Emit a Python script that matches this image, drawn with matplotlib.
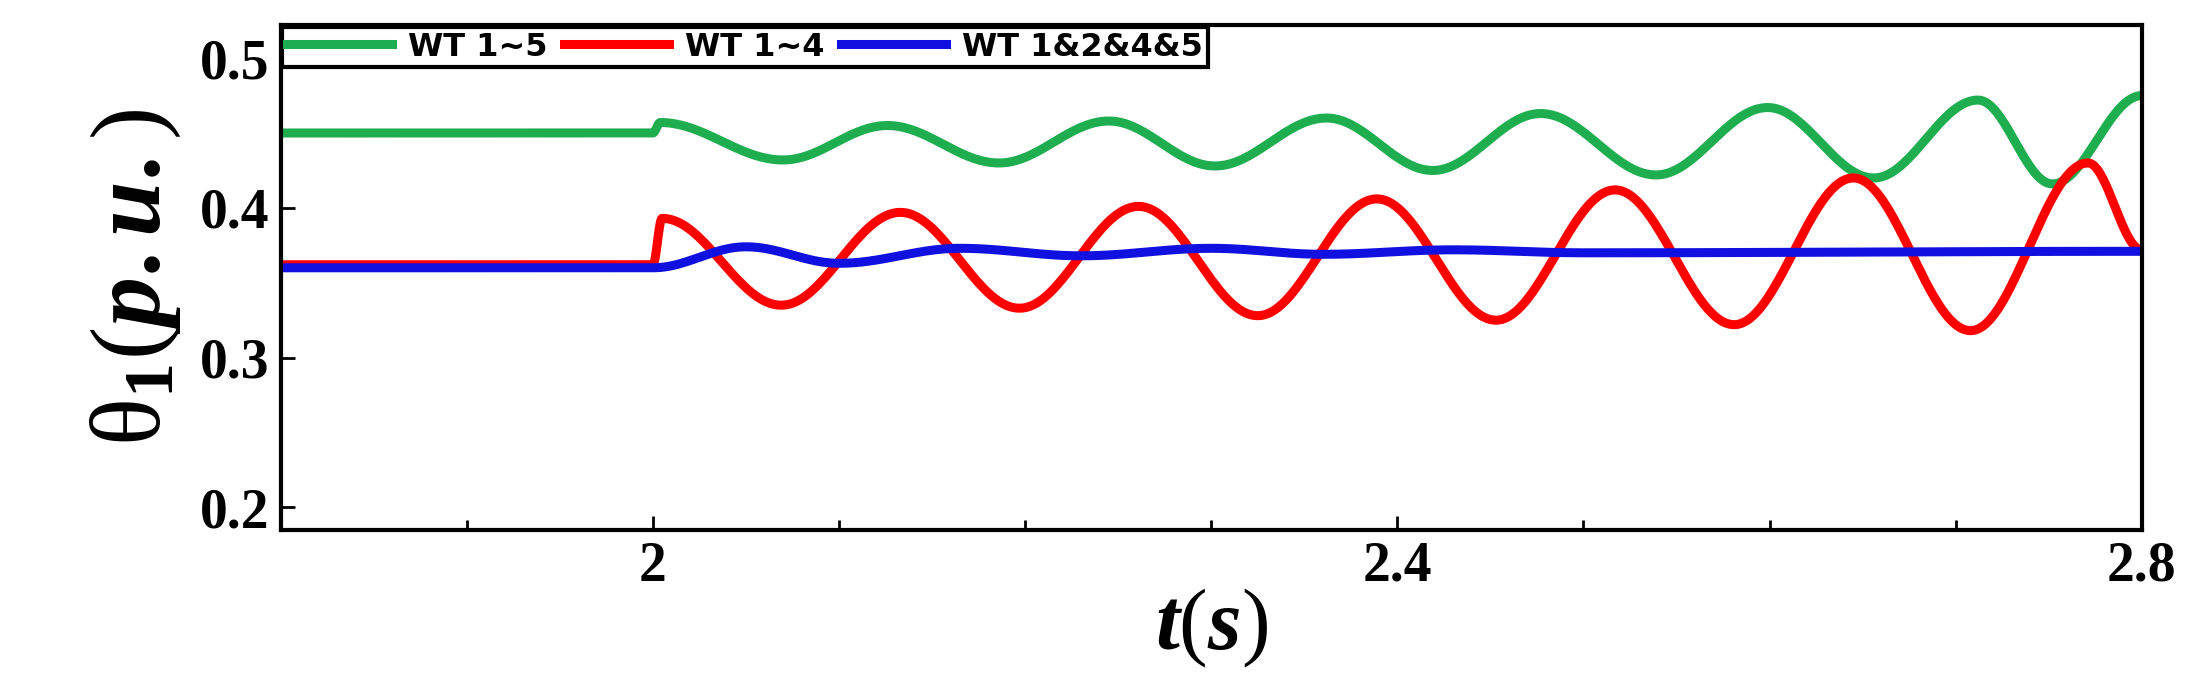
import numpy as np
import matplotlib
matplotlib.use("Agg")
import matplotlib.pyplot as plt

# key points (time, value)
g_t = [1.80, 2.000, 2.004, 2.070, 2.126, 2.186, 2.245, 2.302, 2.362, 2.419, 2.477, 2.539, 2.599, 2.656, 2.712, 2.752, 2.800]
g_v = [0.450, 0.450, 0.457, 0.432, 0.455, 0.430, 0.458, 0.428, 0.460, 0.425, 0.463, 0.422, 0.467, 0.420, 0.472, 0.416, 0.475]
r_t = [1.80, 2.000, 2.005, 2.069, 2.133, 2.197, 2.261, 2.325, 2.389, 2.453, 2.517, 2.581, 2.645, 2.708, 2.771, 2.800]
r_v = [0.362, 0.362, 0.393, 0.335, 0.397, 0.333, 0.401, 0.328, 0.406, 0.325, 0.412, 0.322, 0.420, 0.318, 0.430, 0.372]
b_t = [1.80, 2.000, 2.050, 2.100, 2.165, 2.230, 2.300, 2.360, 2.430, 2.500, 2.800]
b_v = [0.360, 0.360, 0.374, 0.363, 0.373, 0.368, 0.373, 0.369, 0.372, 0.370, 0.371]
labels = ["WT 1~5", "WT 1~4", "WT 1&2&4&5"]
colors = ["#1fae4f", "#ff0000", "#1010e0"]

def smooth(t, v, n=40):
    xs, ys = [], []
    for i in range(len(t) - 1):
        s = np.linspace(0, 1, n)
        w = (1 - np.cos(np.pi * s)) / 2
        xs.append(t[i] + (t[i+1] - t[i]) * s)
        ys.append(v[i] + (v[i+1] - v[i]) * w)
    return np.concatenate(xs), np.concatenate(ys)

plt.rcParams['font.family'] = ['Liberation Serif', 'DejaVu Serif']
plt.rcParams['mathtext.fontset'] = 'custom'
plt.rcParams['mathtext.it'] = 'Liberation Serif:italic:bold'
plt.rcParams['mathtext.rm'] = 'Liberation Serif:bold'
fig = plt.figure(figsize=(21.99, 6.81), dpi=100)
ax = fig.add_axes([0.1276, 0.222, 0.8464, 0.741])
for (t, v), lab, c in zip([(g_t, g_v), (r_t, r_v), (b_t, b_v)], labels, colors):
    x, y = smooth(t, v)
    ax.plot(x, y, color=c, lw=6.5, label=lab)
ax.set_xlim(1.8, 2.8)
ax.set_ylim(0.185, 0.522)
ax.set_xticks([2.0, 2.4, 2.8])
ax.set_xticklabels(["2", "2.4", "2.8"])
ax.set_xticks(np.arange(1.9, 2.8, 0.1), minor=True)
ax.set_yticks([0.2, 0.3, 0.4, 0.5])
ax.set_yticklabels(["0.2", "0.3", "0.4", "0.5"])
ax.tick_params(direction='in', labelsize=40, width=2, length=10, top=False, right=False, pad=8)
ax.tick_params(which='minor', direction='in', width=2, length=7)
for l in ax.get_xticklabels() + ax.get_yticklabels():
    l.set_fontweight('bold')
for s in ax.spines.values():
    s.set_linewidth(3)
ax.set_xlabel(r'$t$($s$)', fontsize=62, labelpad=-4)
ax.set_ylabel(r'θ$_1$($p.u.$)', fontsize=72, labelpad=12)
leg = ax.legend(loc='upper left', ncol=3, frameon=True, fancybox=False, borderaxespad=0.05,
                prop={'family': 'DejaVu Sans', 'weight': 'bold', 'size': 23},
                handlelength=3.3, columnspacing=0.5, handletextpad=0.5, borderpad=0.15)
leg.get_frame().set_edgecolor('black')
leg.get_frame().set_linewidth(3)
leg.get_frame().set_alpha(1)
fig.savefig("out.png", dpi=100)
